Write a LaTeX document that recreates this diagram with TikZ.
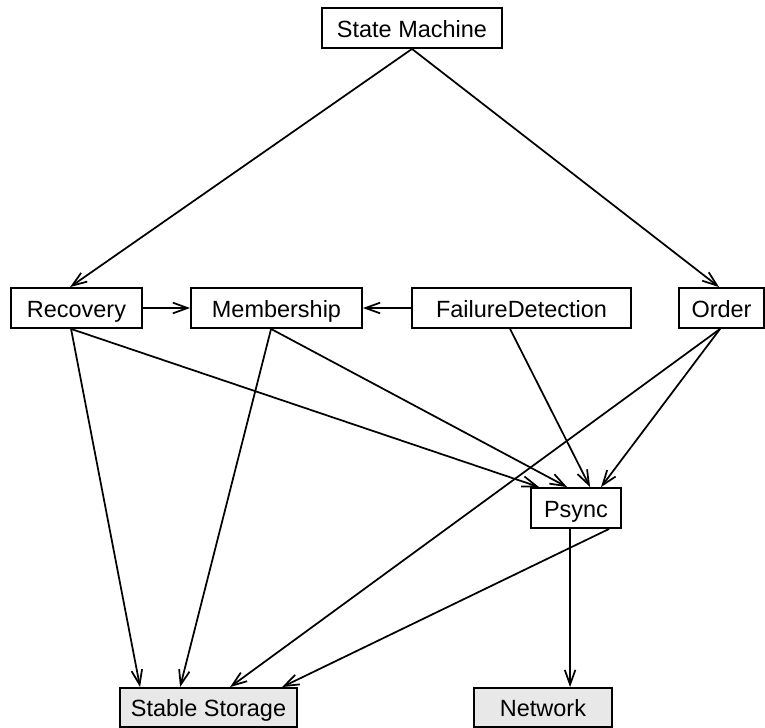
\documentclass[tikz,border=0pt]{standalone}
\usepackage{fontspec}
\setmainfont{Liberation Sans}
\usetikzlibrary{arrows.meta,calc}
\begin{document}
\begin{tikzpicture}[x=0.75pt,y=-0.75pt,
  box/.style={draw,line width=1.4pt,inner sep=0pt,minimum height=30pt,
    text height=16pt,text depth=2.5pt,
    font=\fontsize{17.6}{20}\selectfont},
  gbox/.style={box,fill=black!9,minimum height=29.25pt},
  edge/.style={line width=1.3pt,-{Straight Barb[length=11pt,width=8pt,line width=1.3pt]}}]
\useasboundingbox (0,0) rectangle (765,728);
\node[box,minimum width=135pt] (sm) at (412,28) {State Machine};
\node[box,minimum width=98.25pt] (rec) at (76.5,308) {Recovery};
\node[box,minimum width=128.25pt] (mem) at (276.5,308) {Membership};
\node[box,minimum width=164.25pt] (fd) at (521.5,308) {FailureDetection};
\node[box,minimum width=63.75pt] (ord) at (721.5,308) {Order};
\node[box,minimum width=67.5pt] (ps) at (576,508) {Psync};
\node[gbox,minimum width=132.75pt] (ss) at (208.5,707.5) {Stable Storage};
\node[gbox,minimum width=103.5pt] (net) at (543,707.5) {Network};

\draw[edge] (sm.south) -- ($(rec.north west)+(60,0)$);
\draw[edge] (sm.south) -- ($(ord.north west)+(41,0)$);
\draw[edge] (rec.east) -- (mem.west);
\draw[edge] (fd.west) -- (mem.east);
\draw[edge] ($(rec.south west)+(61,0)$) -- ($(ss.north west)+(21,0)$);
\draw[edge] ($(rec.south west)+(61,0)$) -- ($(ps.north west)+(9,0)$);
\draw[edge] ($(mem.south west)+(81,0)$) -- ($(ss.north west)+(61,0)$);
\draw[edge] ($(mem.south west)+(81,0)$) -- ($(ps.north west)+(37,0)$);
\draw[edge] ($(fd.south west)+(99,0)$) -- ($(ps.north west)+(60,0)$);
\draw[edge] ($(ord.south west)+(42,0)$) -- ($(ps.north west)+(71,0)$);
\draw[edge] ($(ord.south west)+(42,0)$) -- ($(ss.north west)+(111,0)$);
\draw[edge] ($(ps.south west)+(79,0)$) -- ($(ss.north west)+(163,0)$);
\draw[edge] ($(ps.south west)+(40,0)$) -- ($(net.north west)+(97,0)$);
\end{tikzpicture}
\end{document}
